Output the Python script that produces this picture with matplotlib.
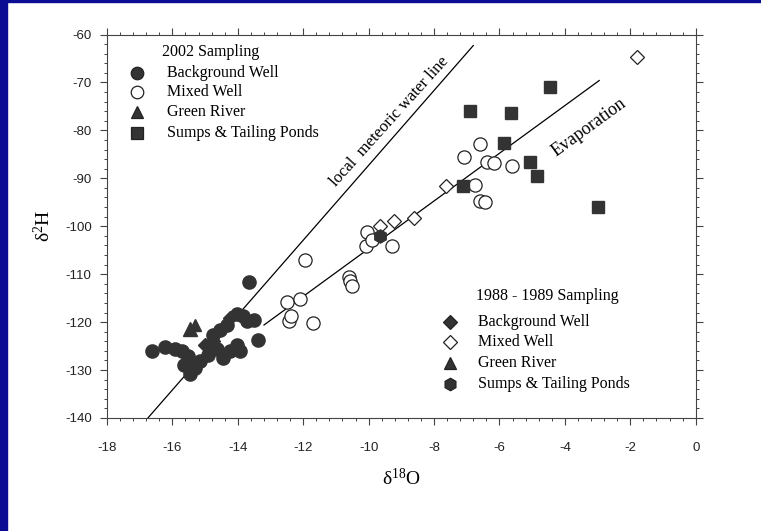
import matplotlib
matplotlib.use('Agg')
import matplotlib.pyplot as plt
from matplotlib.ticker import MultipleLocator

plt.rcParams['axes.unicode_minus'] = False
plt.rcParams['mathtext.fontset'] = 'custom'
plt.rcParams['mathtext.rm'] = 'Liberation Serif'
plt.rcParams['mathtext.it'] = 'Liberation Serif:italic'

# 2002 sampling
bg02_x = [-16.63, -16.22, -15.92, -15.71, -15.51, -15.66, -15.46, -15.31, -15.15,
          -14.90, -14.64, -14.44, -14.23, -14.03, -13.93, -14.54, -14.34,
          -14.03, -13.83, -13.72, -13.52, -14.75, -13.67, -13.37]
bg02_y = [-126.1, -125.2, -125.7, -126.1, -127.1, -128.9, -130.9, -129.5, -128.2,
          -126.8, -125.7, -127.5, -126.1, -124.7, -126.1, -121.6, -120.5,
          -118.4, -118.8, -119.8, -119.6, -122.6, -111.6, -123.8]
mix02_x = [-11.94, -10.61, -10.56, -10.51, -12.50, -12.11, -12.45, -12.38, -11.70,
           -10.05, -10.07, -9.29, -9.90, -6.58, -7.09, -6.38, -6.17, -5.61,
           -6.74, -6.58, -6.43]
mix02_y = [-107.1, -110.6, -111.5, -112.4, -115.7, -115.2, -119.8, -118.8, -120.2,
           -101.1, -104.2, -104.2, -102.8, -82.8, -85.6, -86.5, -86.8, -87.5,
           -91.4, -94.8, -95.0]
gr02_x = [-15.46]
gr02_y = [-121.4]
sump02_x = [-4.46, -6.91, -5.64, -5.85, -5.07, -4.85, -7.12, -2.99]
sump02_y = [-71.0, -75.9, -76.4, -82.7, -86.7, -89.6, -91.6, -96.0]

# 1988 - 1989 sampling
bg88_x = [-15.00, -14.75, -14.23]
bg88_y = [-124.7, -124.0, -119.1]
mix88_x = [-9.64, -9.24, -8.62, -7.62, -1.81]
mix88_y = [-100.0, -99.0, -98.3, -91.6, -64.6]
gr88_x = [-15.30]
gr88_y = [-120.7]
sump88_x = [-9.64]
sump88_y = [-102.1]

# lines
lmwl_x = [-16.75, -6.8]
lmwl_y = [-140.0, -62.3]
evap_x = [-13.2, -2.95]
evap_y = [-120.6, -69.6]

dark = '#333333'
serif = 'Liberation Serif'

fig = plt.figure(figsize=(7.61, 5.31), dpi=100)
fig.patches.append(plt.Rectangle((0, 0), 7 / 761, 1, transform=fig.transFigure, color='#0b0b94', zorder=0))
fig.patches.append(plt.Rectangle((0, 1 - 2 / 531), 1, 2 / 531, transform=fig.transFigure, color='#0b0b94', zorder=0))

ax = fig.add_axes([107 / 761, 1 - 418 / 531, 588.7 / 761, 383.5 / 531])

ax.plot(lmwl_x, lmwl_y, color='black', lw=0.9, zorder=2)
ax.plot(evap_x, evap_y, color='black', lw=0.9, zorder=2)

ms = 9.5
ax.plot(bg02_x, bg02_y, 'o', ms=ms, color=dark, mec=dark, ls='none', zorder=3)
ax.plot(bg88_x, bg88_y, 'D', ms=ms - 2, color=dark, mec=dark, ls='none', zorder=3)
ax.plot(gr02_x, gr02_y, '^', ms=ms, color=dark, mec=dark, ls='none', zorder=3)
ax.plot(gr88_x, gr88_y, '^', ms=ms - 1, color=dark, mec=dark, ls='none', zorder=3)
ax.plot(mix02_x, mix02_y, 'o', ms=ms, mfc='white', mec='#222222', mew=0.9, ls='none', zorder=4)
ax.plot(mix88_x, mix88_y, 'D', ms=ms - 2, mfc='white', mec='#222222', mew=0.9, ls='none', zorder=4)
ax.plot(sump02_x, sump02_y, 's', ms=ms - 0.5, color=dark, mec=dark, ls='none', zorder=5)
ax.plot(sump88_x, sump88_y, 'h', ms=ms, color=dark, mec=dark, ls='none', zorder=5)

ax.text(-9.37, -78.2, 'local  meteoric water line', family=serif, fontsize=12,
        rotation=48, ha='center', va='center')
ax.text(-3.25, -79.3, 'Evaporation', family=serif, fontsize=13,
        rotation=36, ha='center', va='center')

# legends drawn by hand so the titles line up with the labels
def legend_block(title, tx, ty, mx, lx, rows, entries):
    ax.text(tx, ty, title, transform=ax.transAxes, family=serif, fontsize=11.5,
            ha='left', va='center')
    for yy, (mk, face, label) in zip(rows, entries):
        ax.plot([mx], [yy], mk, ms=ms - 0.5 if mk != 'D' else ms - 2.5, mfc=face, mec='#222222',
                mew=0.9, transform=ax.transAxes, clip_on=False)
        ax.text(lx, yy, label, transform=ax.transAxes, family=serif, fontsize=11.5,
                ha='left', va='center')

legend_block('2002 Sampling', 0.093, 0.954, 0.051, 0.102,
             [0.8996, 0.850, 0.798, 0.743],
             [('o', dark, 'Background Well'), ('o', 'white', 'Mixed Well'),
              ('^', dark, 'Green River'), ('s', dark, 'Sumps & Tailing Ponds')])
legend_block('1988 - 1989 Sampling', 0.627, 0.318, 0.583, 0.630,
             [0.250, 0.198, 0.143, 0.0887],
             [('D', dark, 'Background Well'), ('D', 'white', 'Mixed Well'),
              ('^', dark, 'Green River'), ('h', dark, 'Sumps & Tailing Ponds')])

ax.set_xlim(-18, 0)
ax.set_ylim(-140, -60)
ax.xaxis.set_major_locator(MultipleLocator(2))
ax.xaxis.set_minor_locator(MultipleLocator(0.4))
ax.yaxis.set_major_locator(MultipleLocator(10))
ax.yaxis.set_minor_locator(MultipleLocator(2))
ax.tick_params(which='both', direction='out', top=True, right=True, color='#444444',
               labelsize=9.5, labelcolor='#222222')
ax.tick_params(which='major', length=5, width=0.8)
ax.tick_params(which='minor', length=2.5, width=0.7)
ax.tick_params(axis='x', which='major', pad=12)
ax.tick_params(axis='y', which='major', pad=6)
for lab in ax.get_xticklabels() + ax.get_yticklabels():
    lab.set_family('Liberation Sans')
for sp in ax.spines.values():
    sp.set_linewidth(0.8)
    sp.set_color('#444444')

ax.set_xlabel('δ$^{18}$O', family=serif, fontsize=14, labelpad=10)
ax.set_ylabel('δ$^{2}$H', family=serif, fontsize=14, labelpad=8)

fig.savefig('out.png', dpi=100)
